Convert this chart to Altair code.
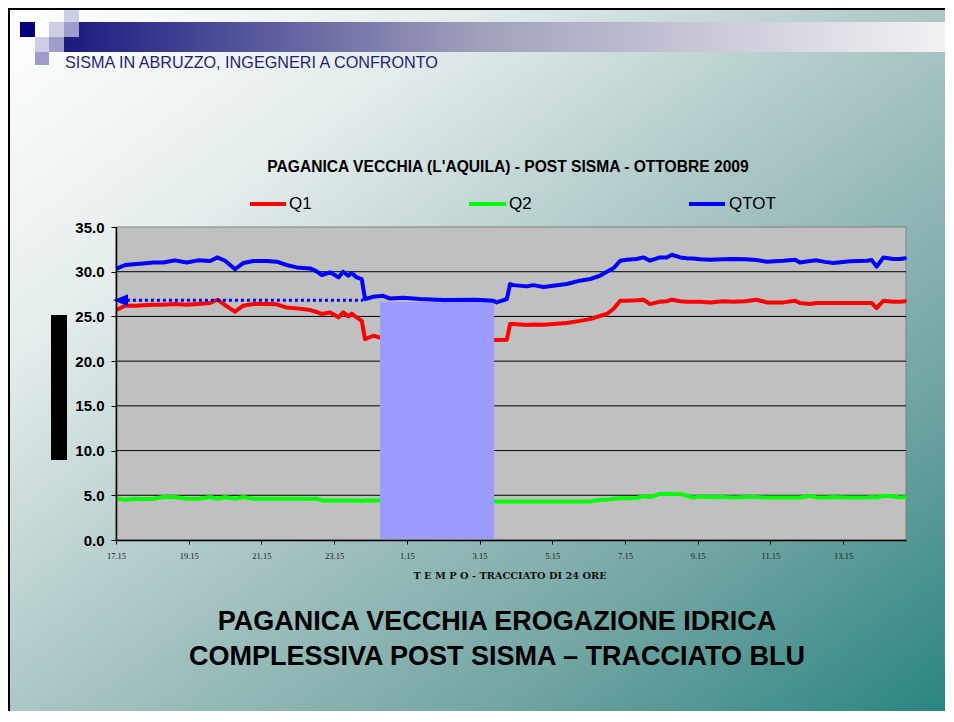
import json
import altair as alt
import pandas as pd

# ---------------- data ----------------
HOURS = [0.05, 0.25, 0.57, 0.75, 1.03, 1.30, 1.62, 1.94, 2.26, 2.59, 2.79, 3.00, 3.27, 3.50,
         3.78, 4.14, 4.42, 4.69, 4.97, 5.34, 5.52, 5.66, 5.89, 6.12, 6.25, 6.39, 6.48, 6.62,
         6.76, 6.85, 7.08, 7.35, 7.54, 7.90, 8.36, 9.00, 9.92, 10.38, 10.47, 10.75, 10.84,
         10.93, 11.30, 11.48, 11.76, 12.03, 12.40, 12.76, 13.04, 13.31, 13.50, 13.68, 13.87,
         14.05, 14.32, 14.51, 14.69, 14.96, 15.15, 15.29, 15.52, 15.70, 15.88, 16.07, 16.34,
         16.70, 16.98, 17.30, 17.62, 17.90, 18.36, 18.68, 18.81, 19.09, 19.27, 19.50, 19.73,
         20.19, 20.65, 20.79, 20.92, 21.11, 21.38, 21.57, 21.70]

QTOT = [30.40, 30.75, 30.86, 30.93, 31.04, 31.04, 31.27, 31.04, 31.27, 31.20, 31.60, 31.23,
        30.30, 30.97, 31.19, 31.19, 31.12, 30.75, 30.48, 30.37, 30.04, 29.63, 29.93, 29.37,
        30.00, 29.55, 29.85, 29.37, 29.18, 26.94, 27.20, 27.30, 27.00, 27.10, 26.94, 26.83,
        26.87, 26.76, 26.57, 26.94, 28.62, 28.50, 28.36, 28.50, 28.29, 28.43, 28.62, 29.00,
        29.18, 29.55, 30.00, 30.37, 31.23, 31.34, 31.42, 31.60, 31.23, 31.60, 31.60, 31.90,
        31.60, 31.50, 31.49, 31.40, 31.34, 31.40, 31.42, 31.40, 31.30, 31.12, 31.23, 31.34,
        31.04, 31.20, 31.27, 31.10, 30.97, 31.16, 31.23, 31.30, 30.56, 31.60, 31.42, 31.42,
        31.50]

Q1 = [25.80, 26.20, 26.20, 26.25, 26.30, 26.30, 26.38, 26.30, 26.40, 26.50, 26.87, 26.27,
      25.53, 26.20, 26.38, 26.38, 26.35, 26.00, 25.90, 25.71, 25.50, 25.27, 25.45, 24.90,
      25.45, 25.00, 25.30, 24.90, 24.50, 22.47, 22.84, 22.55, 22.50, 22.50, 22.50, 22.45,
      22.40, 22.36, 22.36, 22.40, 24.15, 24.15, 24.04, 24.10, 24.07, 24.15, 24.26, 24.50,
      24.70, 25.05, 25.27, 25.83, 26.76, 26.76, 26.80, 26.87, 26.38, 26.65, 26.70, 26.87,
      26.70, 26.65, 26.65, 26.65, 26.57, 26.70, 26.65, 26.70, 26.87, 26.57, 26.57, 26.76,
      26.50, 26.38, 26.50, 26.50, 26.50, 26.50, 26.50, 26.50, 25.94, 26.76, 26.65, 26.65,
      26.70]

Q2 = [4.62, 4.50, 4.60, 4.55, 4.62, 4.80, 4.80, 4.62, 4.62, 4.80, 4.62, 4.80, 4.62, 4.80,
      4.62, 4.62, 4.62, 4.62, 4.62, 4.62, 4.62, 4.42, 4.42, 4.42, 4.42, 4.42, 4.42, 4.42,
      4.35, 4.42, 4.42, 4.42, 4.42, 4.42, 4.42, 4.40, 4.38, 4.35, 4.30, 4.30, 4.30, 4.30,
      4.30, 4.30, 4.30, 4.30, 4.30, 4.30, 4.30, 4.50, 4.50, 4.60, 4.66, 4.66, 4.70, 4.90,
      4.80, 5.15, 5.15, 5.15, 5.15, 4.95, 4.75, 4.85, 4.80, 4.80, 4.75, 4.80, 4.80, 4.75,
      4.75, 4.75, 4.75, 4.95, 4.75, 4.75, 4.80, 4.75, 4.75, 4.80, 4.75, 4.95, 4.90, 4.75,
      4.80]

X_TICK_HOURS = [0, 2, 4, 6, 8, 10, 12, 14, 16, 18, 20]
X_TICK_LABELS = ["17.15", "19.15", "21.15", "23.15", "1.15", "3.15", "5.15", "7.15",
                 "9.15", "11.15", "13.15"]
Y_TICKS = [0, 5, 10, 15, 20, 25, 30, 35]
GRID_VALUES = [5, 10, 15, 20, 25, 30]

HIGHLIGHT_START = 7.26
HIGHLIGHT_END = 10.40
HIGHLIGHT_BOTTOM = 0.1
HIGHLIGHT_TOP = 26.65
ARROW_LEVEL = 26.8
ARROW_FROM = 0.30
ARROW_TO = 6.80
ARROW_HEAD = 0.124

SLIDE_HEADER = "SISMA IN ABRUZZO, INGEGNERI A CONFRONTO"
CHART_TITLE = "PAGANICA VECCHIA (L'AQUILA) - POST SISMA - OTTOBRE 2009"
X_TITLE = "T E M P O - TRACCIATO DI 24 ORE"
FOOTER = ["PAGANICA VECCHIA EROGAZIONE IDRICA", "COMPLESSIVA POST SISMA \u2013 TRACCIATO BLU"]
SERIES = ["Q1", "Q2", "QTOT"]
SERIES_COLORS = ["#ff0000", "#00ff00", "#0000ff"]

# ---------------- layout ----------------
PLOT_LEFT, PLOT_TOP = 116, 227     # page coords of plot origin
PLOT_W, PLOT_H = 790, 313
CANVAS_W, CANVAS_H = 938, 704
PAD_L, PAD_T = PLOT_LEFT - 8, PLOT_TOP - 8
PAD_R = CANVAS_W - PAD_L - PLOT_W
PAD_B = CANVAS_H - PAD_T - PLOT_H

SANS = "Liberation Sans"
SERIF = "Liberation Serif"

df = pd.DataFrame({"hour": HOURS, "QTOT": QTOT, "Q1": Q1, "Q2": Q2})
one = pd.DataFrame({"k": [0]})

XS = alt.Scale(domain=[0, 21.73], nice=False, zero=False)
YS = alt.Scale(domain=[0, 35], nice=False)

label_expr = json.dumps(X_TICK_LABELS) + "[round(datum.value / 2)]"
X_AXIS = alt.Axis(values=X_TICK_HOURS, labelExpr=label_expr, labelFont=SERIF,
                  labelFontSize=8.5, labelColor="#222222", tickSize=4, tickColor="#000000",
                  domainColor="#000000", domainWidth=1.5, labelPadding=7, grid=False,
                  title=None, zindex=1, labelFlush=False)
Y_AXIS = alt.Axis(values=Y_TICKS, format=".1f", labelFont=SANS, labelFontWeight="bold",
                  labelFontSize=15, labelColor="#000000", tickSize=5, tickColor="#000000",
                  domainColor="#000000", domainWidth=1.5, labelPadding=7, grid=False,
                  title=None, zindex=1)


def X(field):
    return alt.X(field, scale=XS, axis=X_AXIS, title=None)


def Y(field):
    return alt.Y(field, scale=YS, axis=Y_AXIS, title=None)


def px(x):
    return alt.value(x - PLOT_LEFT)


def py(y):
    return alt.value(y - PLOT_TOP)


def page_rect(x0, y0, x1, y1, **kw):
    return alt.Chart(one).mark_rect(strokeWidth=0, **kw).encode(
        x=px(x0), x2=px(x1), y=py(y0), y2=py(y1))


def page_text(x, y, text, **kw):
    return alt.Chart(one).mark_text(**kw).encode(x=px(x), y=py(y), text=alt.value(text))


# slide background (stops 1px short of the canvas edge to avoid a dark edge artefact)
bg = alt.Chart(one).mark_rect(
    fill=alt.LinearGradient(
        gradient="linear", x1=0, y1=0, x2=1, y2=1,
        stops=[alt.GradientStop(color="#ffffff", offset=0),
               alt.GradientStop(color="#e4ecec", offset=0.25),
               alt.GradientStop(color="#abc7c6", offset=0.5),
               alt.GradientStop(color="#72a5a3", offset=0.76),
               alt.GradientStop(color="#2a8580", offset=1)]),
    strokeWidth=0,
).encode(x=px(8), x2=px(8 + CANVAS_W - 1), y=py(8), y2=py(8 + CANVAS_H - 1))

border_left = page_rect(8, 8, 10, 8 + CANVAS_H - 1, fill="#000000")
border_top = page_rect(8, 8, 8 + CANVAS_W - 1, 10, fill="#000000")

header_bar = alt.Chart(one).mark_rect(
    fill=alt.LinearGradient(
        gradient="linear", x1=0, y1=0, x2=1, y2=0,
        stops=[alt.GradientStop(color="#1a1a80", offset=0),
               alt.GradientStop(color="#a0a0bc", offset=0.47),
               alt.GradientStop(color="#f2f2f4", offset=1)]),
    strokeWidth=0,
).encode(x=px(64), x2=px(8 + CANVAS_W - 1), y=py(22), y2=py(52))

LIGHT, MED, NAVY = "#cdcde6", "#9d9dcc", "#000080"
squares = [
    page_rect(20, 22, 35, 37, fill=NAVY),
    page_rect(64, 10, 79, 22, fill=LIGHT),
    page_rect(49, 22, 64, 37, fill=LIGHT),
    page_rect(64, 22, 79, 37, fill=MED),
    page_rect(35, 37, 49, 52, fill=LIGHT),
    page_rect(49, 37, 64, 52, fill=MED),
    page_rect(35, 52, 49, 65, fill=MED),
]

header_text = page_text(65, 63, SLIDE_HEADER, align="left", baseline="middle", font=SANS,
                        fontSize=16.2, color="#1f1f78")

title = page_text(508, 167, CHART_TITLE, align="center", baseline="middle", font=SANS,
                  fontSize=15.6, fontWeight="bold", color="#000000")

legend = []
legend_pos = [(250, 286, 289), (469, 506, 509), (689, 725, 729)]
for name, col, (a, b, t) in zip(SERIES, SERIES_COLORS, legend_pos):
    legend.append(alt.Chart(one).mark_rule(color=col, strokeWidth=4).encode(
        x=px(a), x2=px(b), y=py(204)))
    legend.append(page_text(t, 204, name, align="left", baseline="middle", font=SANS,
                            fontSize=17, color="#000000"))

black_bar = page_rect(51, 315, 67, 460, fill="#000000")

x_title = page_text(510, 576, X_TITLE, align="center", baseline="middle", font="DejaVu Serif",
                    fontSize=9.8, fontWeight="bold", color="#111111")

footer = alt.Chart(one).mark_text(align="center", baseline="middle", font=SANS, fontSize=27,
                                  fontWeight="bold", color="#000000", lineHeight=35).encode(
    x=px(497), y=py(622), text=alt.value(FOOTER))

# plot area
plot_bg = alt.Chart(one).mark_rect(fill="#c0c0c0", stroke="#808080", strokeWidth=1).encode(
    x=alt.value(0), x2=alt.value("width"), y=alt.value(0), y2=alt.value("height"))

grid = alt.Chart(pd.DataFrame({"v": GRID_VALUES})).mark_rule(color="#000000", strokeWidth=1).encode(
    y=Y("v:Q"), x=alt.value(0), x2=alt.value("width"))


def series_line(field, color):
    return alt.Chart(df).mark_line(color=color, strokeWidth=4, strokeJoin="round",
                                   strokeCap="round").encode(
        x=X("hour:Q"), y=Y(f"{field}:Q"))


line_q2 = series_line("Q2", SERIES_COLORS[1])
line_q1 = series_line("Q1", SERIES_COLORS[0])
line_tot = series_line("QTOT", SERIES_COLORS[2])

highlight = alt.Chart(pd.DataFrame({"x0": [HIGHLIGHT_START], "x1": [HIGHLIGHT_END],
                                    "y0": [HIGHLIGHT_BOTTOM], "y1": [HIGHLIGHT_TOP]})).mark_rect(
    color="#9c9cff", opacity=1).encode(
    x=X("x0:Q"), x2="x1:Q", y=Y("y0:Q"), y2="y1:Q")

arrow_line = alt.Chart(pd.DataFrame({"a": [ARROW_FROM], "b": [ARROW_TO], "y": [ARROW_LEVEL]})).mark_rule(
    color="#0000ff", strokeWidth=3, strokeDash=[3, 3]).encode(
    x=X("a:Q"), x2="b:Q", y=Y("y:Q"))

arrow_head = alt.Chart(pd.DataFrame({"h": [ARROW_HEAD], "y": [ARROW_LEVEL]})).mark_point(
    shape="M-1,0L1,-0.8L1,0.8Z", filled=True, size=225, color="#0000ff", opacity=1,
    strokeWidth=0).encode(
    x=X("h:Q"), y=Y("y:Q"))

chart = alt.layer(
    bg, border_left, border_top, header_bar, *squares, header_text, title, *legend,
    black_bar, x_title, footer, plot_bg, grid, line_q2, line_q1, highlight, line_tot,
    arrow_line, arrow_head,
).properties(
    width=PLOT_W, height=PLOT_H,
    autosize=alt.AutoSizeParams(type="none"),
    padding={"left": PAD_L, "top": PAD_T, "right": PAD_R, "bottom": PAD_B},
    background="#ffffff",
).configure_view(stroke=None, fill=None)

chart.save("out.html", embed_options={"renderer": "svg", "actions": False})
